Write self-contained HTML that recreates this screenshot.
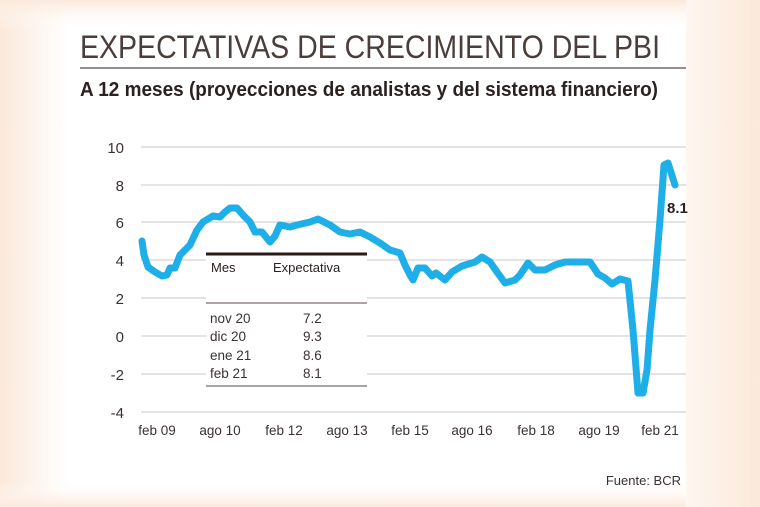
<!DOCTYPE html>
<html><head><meta charset="utf-8"><style>
html,body{margin:0;padding:0;}
body{width:760px;height:507px;overflow:hidden;background:#fbeee3;}
</style></head><body>
<svg width="760" height="507" viewBox="0 0 760 507" xmlns="http://www.w3.org/2000/svg" style="display:block">
<defs>
<linearGradient id="gl" x1="0" x2="1" y1="0" y2="0">
<stop offset="0" stop-color="#fbe9da"/><stop offset="0.09" stop-color="#fff"/><stop offset="0.9" stop-color="#fff"/><stop offset="1" stop-color="#fbe9da"/>
</linearGradient>
<linearGradient id="gt" x1="0" x2="0" y1="0" y2="1">
<stop offset="0" stop-color="#fbe9da" stop-opacity="1"/><stop offset="0.06" stop-color="#fff" stop-opacity="0"/><stop offset="0.95" stop-color="#fff" stop-opacity="0"/><stop offset="1" stop-color="#fbe9da" stop-opacity="1"/>
</linearGradient>
<linearGradient id="gr" x1="0" x2="1" y1="0" y2="0">
<stop offset="0" stop-color="#fef6f0"/><stop offset="1" stop-color="#fbe9da"/>
</linearGradient>
</defs>
<rect width="760" height="507" fill="#fbeadc"/>
<rect x="0" y="0" width="760" height="507" fill="url(#gl)"/>
<rect x="0" y="0" width="760" height="507" fill="url(#gt)"/>
<rect x="686" y="0" width="74" height="507" fill="url(#gr)"/>
<g font-family="Liberation Sans, sans-serif" fill="#2b2220">
<text x="80" y="58" font-size="32" textLength="580" lengthAdjust="spacingAndGlyphs" fill="#4a3e3b">EXPECTATIVAS DE CRECIMIENTO DEL PBI</text>
<line x1="80" y1="68" x2="686" y2="68" stroke="#5a4a46" stroke-width="1.2"/>
<text x="80" y="96" font-size="20" font-weight="bold" textLength="578" lengthAdjust="spacingAndGlyphs">A 12 meses (proyecciones de analistas y del sistema financiero)</text>
<g stroke="#c9c9c9" stroke-width="1">
<line x1="141" y1="147" x2="686" y2="147"/><line x1="141" y1="185" x2="686" y2="185"/>
<line x1="141" y1="222" x2="686" y2="222"/><line x1="141" y1="260" x2="686" y2="260"/>
<line x1="141" y1="298" x2="686" y2="298"/><line x1="141" y1="336" x2="686" y2="336"/>
<line x1="141" y1="374" x2="686" y2="374"/><line x1="141" y1="412" x2="686" y2="412"/>
</g>
<g font-size="15" text-anchor="end" fill="#3a3230">
<text x="124" y="153">10</text><text x="124" y="191">8</text><text x="124" y="228">6</text><text x="124" y="266">4</text>
<text x="124" y="304">2</text><text x="124" y="342">0</text><text x="124" y="380">-2</text><text x="124" y="418">-4</text>
</g>
<g font-size="13.5" text-anchor="middle" fill="#3a3230">
<text x="157" y="435">feb 09</text><text x="220" y="435">ago 10</text><text x="284" y="435">feb 12</text>
<text x="347" y="435">ago 13</text><text x="410" y="435">feb 15</text><text x="472" y="435">ago 16</text>
<text x="536" y="435">feb 18</text><text x="599" y="435">ago 19</text><text x="660" y="435">feb 21</text>
</g>
<polyline fill="none" stroke="#1eaee8" stroke-width="7" stroke-linejoin="round" stroke-linecap="round" points="142,241 144,255 148,267 155,272 162,276 167,275 170,268 175,268 180,255 190,245 197,230 203,222 213,216 220,217 225,212 230,208 237,208 243,215 250,222 255,232 262,232 270,242 275,236 280,225 290,227 297,225 310,222 318,219 330,225 340,232 350,234 360,232 370,237 380,243 390,250 400,253 405,265 410,275 413,280 418,268 425,268 432,276 436,273 445,280 452,272 462,266 475,262 482,257 490,262 497,272 505,283 515,280 520,275 528,263 535,270 545,270 555,265 565,262 590,262 598,274 605,278 612,284 620,279 628,281 633,330 638,393 643,393 647,370 650,330 655,280 660,220 664,165 668,163 675,185"/>
<rect x="206" y="256" width="161" height="130" fill="#fff"/>
<line x1="206" y1="254" x2="367" y2="254" stroke="#2a1a17" stroke-width="3"/>
<text x="211" y="272" font-size="13">Mes</text>
<text x="273" y="272" font-size="13">Expectativa</text>
<line x1="206" y1="303" x2="367" y2="303" stroke="#5a4a46" stroke-width="1"/>
<g font-size="13.5" fill="#3a3230">
<text x="210" y="323">nov 20</text><text x="303" y="323">7.2</text>
<text x="210" y="341">dic 20</text><text x="303" y="341">9.3</text>
<text x="210" y="360">ene 21</text><text x="303" y="360">8.6</text>
<text x="210" y="378">feb 21</text><text x="303" y="378">8.1</text>
</g>
<line x1="206" y1="386" x2="367" y2="386" stroke="#5a4a46" stroke-width="1"/>
<text x="667" y="213" font-size="15" font-weight="bold">8.1</text>
<text x="681" y="485" font-size="13" text-anchor="end" fill="#3a3230">Fuente: BCR</text>
</g>
</svg>
</body></html>
